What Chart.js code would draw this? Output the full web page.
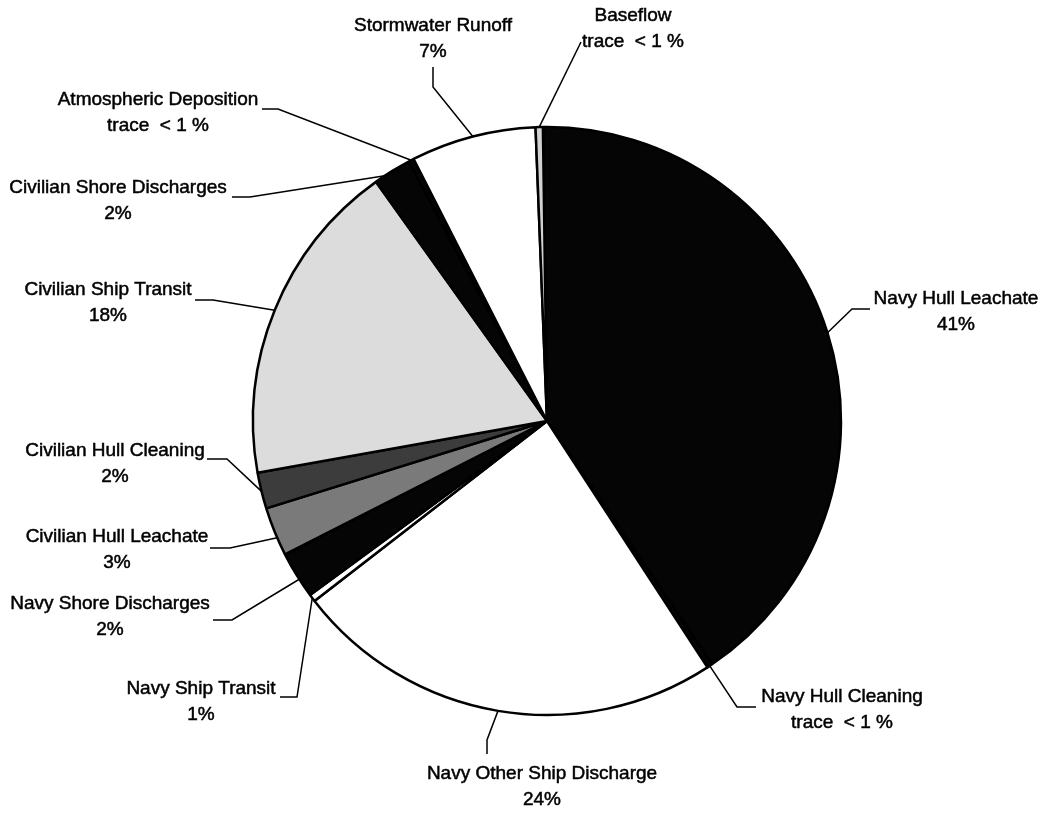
<!DOCTYPE html>
<html>
<head>
<meta charset="utf-8">
<title>Copper loading by source</title>
<script src="https://cdn.jsdelivr.net/npm/chart.js@4.4.1/dist/chart.umd.min.js"></script>
<style>
    html, body { margin: 0; padding: 0; background: #fff; }
    #wrap { position: relative; width: 1043px; height: 814px; }
</style>
</head>
<body>
<div id="wrap"><canvas id="sourceChart"></canvas></div>
<script>
// ==================== Data ====================

// slices clockwise from 12 o'clock
const categories = [
    'Navy Hull Leachate',
    'Navy Hull Cleaning',
    'Navy Other Ship Discharge',
    'Navy Ship Transit',
    'Navy Shore Discharges',
    'Civilian Hull Leachate',
    'Civilian Hull Cleaning',
    'Civilian Ship Transit',
    'Civilian Shore Discharges',
    'Atmospheric Deposition',
    'Stormwater Runoff',
    'Baseflow'
];

// share of the total
const shares = [40.9, 0.3, 23.8, 0.4, 2.6, 2.7, 2.0, 18.0, 2.1, 0.3, 6.9, 0.4];

// printed under each name
const shareLabels = ['41%', 'trace  < 1 %', '24%', '1%', '2%', '3%', '2%', '18%', '2%', 'trace  < 1 %', '7%', 'trace  < 1 %'];

// ==================== Styles / layout ====================

const sliceColors = [
    '#050505', '#050505', '#ffffff', '#ffffff', '#050505', '#7a7a7a',
    '#3c3c3c', '#dcdcdc', '#050505', '#050505', '#ffffff', '#d2d2d2'
];

// text centre (x, y of first line), where on the slice the leader starts (0..1),
// and the leader's bend points going out from the rim
const labelLayout = [
    { x: 956, y: 299, at: 0.5,  leader: [[852, 309], [870, 309]] },
    { x: 842, y: 697, at: 0.5,  leader: [[737, 707], [756, 707]] },
    { x: 542, y: 774, at: 0.5,  leader: [[487, 740], [487, 754]] },
    { x: 201, y: 689, at: 0.5,  leader: [[297, 697], [280, 697]] },
    { x: 110, y: 604, at: 0.4,  leader: [[232, 620], [213, 620]] },
    { x: 117, y: 537, at: 0.37, leader: [[230, 548], [210, 548]] },
    { x: 115, y: 451, at: 0.48, leader: [[227, 459], [207, 459]] },
    { x: 108, y: 290, at: 0.5,  leader: [[213, 300], [195, 300]] },
    { x: 118, y: 188, at: 0.28, leader: [[250, 197], [232, 197]] },
    { x: 158, y: 100, at: 0.5,  leader: [[278, 109], [262, 109]] },
    { x: 433, y: 26,  at: 0.5,  leader: [[433, 87], [433, 67]] },
    { x: 633, y: 16,  at: 0.5,  leader: [[581, 42]] }
];

const LINE_GAP = 26;

// ==================== Labels plugin ====================

function drawLabelLine(ctx, text, x, y) {
    // thin stroke thickens the glyphs a little, like the scanned original
    ctx.lineWidth = 0.5;
    ctx.strokeText(text, x, y);
    ctx.fillText(text, x, y);
}

const sourceLabels = {
    id: 'sourceLabels',
    afterDatasetsDraw(chart) {
        const ctx = chart.ctx;
        const arcs = chart.getDatasetMeta(0).data;

        ctx.save();
        ctx.strokeStyle = '#000';
        ctx.fillStyle = '#000';
        ctx.font = '19px "Liberation Sans", Arial, sans-serif';
        ctx.textAlign = 'center';
        ctx.textBaseline = 'middle';

        labelLayout.forEach((lay, i) => {
            const arc = arcs[i];
            const a = arc.startAngle + (arc.endAngle - arc.startAngle) * lay.at;
            const r = arc.outerRadius;

            ctx.lineWidth = 1.5;
            ctx.beginPath();
            ctx.moveTo(arc.x + r * Math.cos(a), arc.y + r * Math.sin(a));
            lay.leader.forEach(p => ctx.lineTo(p[0], p[1]));
            ctx.stroke();

            drawLabelLine(ctx, categories[i], lay.x, lay.y);
            drawLabelLine(ctx, shareLabels[i], lay.x, lay.y + LINE_GAP);
        });
        ctx.restore();
    }
};

// ==================== Chart ====================

document.addEventListener('DOMContentLoaded', function () {
    const canvas = document.getElementById('sourceChart');

    new Chart(canvas, {
        type: 'pie',
        data: {
            labels: categories,
            datasets: [{
                data: shares,
                backgroundColor: sliceColors,
                borderColor: '#000',
                borderWidth: 2.5,
                radius: 294
            }]
        },
        options: {
            responsive: true,
            maintainAspectRatio: false,
            animation: false,
            rotation: -0.8,
            layout: { padding: { left: 51, top: 28, right: 0, bottom: 0 } },
            plugins: {
                legend: { display: false },
                tooltip: { enabled: false }
            }
        },
        plugins: [sourceLabels]
    });
});
</script>
</body>
</html>
